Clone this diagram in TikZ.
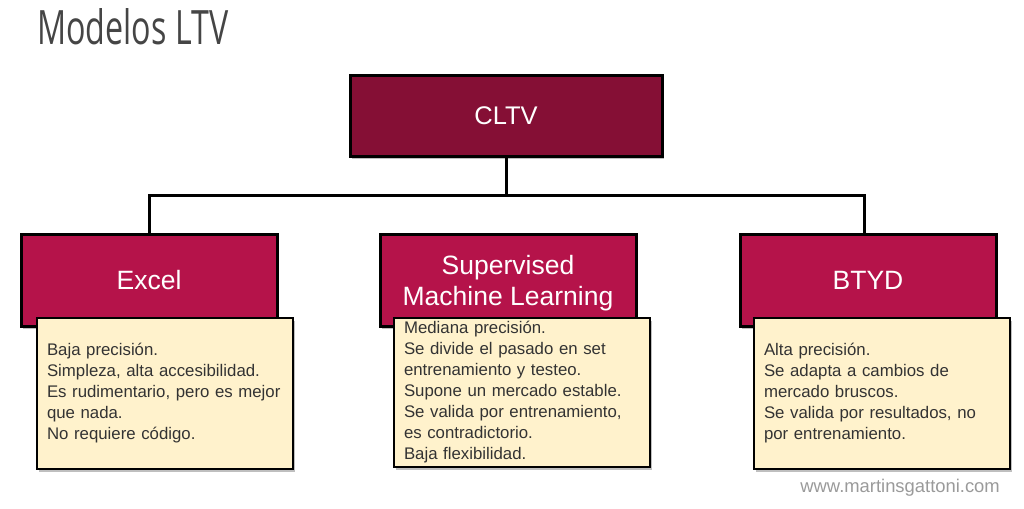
\documentclass[tikz,border=0pt]{standalone}
\usepackage{fontspec}
\setmainfont{Liberation Sans}
\setsansfont{Liberation Sans}
\newfontfamily\titlefont{Open Sans}
\usetikzlibrary{shadows}
\definecolor{cltvred}{HTML}{850F35}
\definecolor{childred}{HTML}{B5134A}
\definecolor{noteyellow}{HTML}{FFF2CC}
\definecolor{titlegray}{HTML}{454545}
\definecolor{markgray}{HTML}{9A9A9A}
\tikzset{
  boxshadow/.style={drop shadow={shadow xshift=1.5pt, shadow yshift=-2.5pt, opacity=0.25, fill=black}},
  topbox/.style={draw=black, line width=3pt, fill=cltvred, text=white, minimum width=312pt, minimum height=80pt, font=\fontsize{25.5}{30}\selectfont, boxshadow},
  childbox/.style={draw=black, line width=3pt, fill=childred, text=white, minimum width=256pt, minimum height=92pt, align=center, font=\fontsize{26.5}{32}\selectfont, boxshadow},
  notebox/.style={draw=black, line width=2.5pt, fill=noteyellow, text=black!80, minimum width=256pt, text width=236pt, inner xsep=10pt, align=left, font=\fontsize{16.8}{21}\selectfont, boxshadow},
  conn/.style={draw=black, line width=3pt}
}
\begin{document}
\begin{tikzpicture}[x=1pt,y=-1pt]
\useasboundingbox (0,0) rectangle (1024,508);
\node[anchor=north west, inner sep=0pt, text=titlegray] (title) at (37,8) {\resizebox{191pt}{36pt}{\titlefont Modelos LTV}};
\node[topbox] (cltv) at (506,116) {CLTV};
\coordinate (bus) at (506,195);
\coordinate (btydin) at (864,234);
\draw[conn] (cltv.south) -- (cltv.south |- bus);
\node[childbox] (excel) at (149,280) {Excel};
\node[childbox] (sml) at (508,280) {\raisebox{-3pt}[\height][\depth]{\shortstack{Supervised\\[4pt]Machine Learning}}};
\node[childbox] (btyd) at (868,280) {BTYD};
\draw[conn, line join=miter] (excel.north) |- (btydin |- bus) -- (btydin);
\node[notebox, minimum height=151pt] (exceln) at (165,393.5) {Baja precisión.\\Simpleza, alta accesibilidad.\\Es rudimentario, pero es mejor\\que nada.\\No requiere código.};
\node[notebox, minimum height=149pt] (smln) at (522,392.5) {Mediana precisión.\\Se divide el pasado en set\\entrenamiento y testeo.\\Supone un mercado estable.\\Se valida por entrenamiento,\\es contradictorio.\\Baja flexibilidad.};
\node[notebox, minimum height=151pt] (btydn) at (882,393.5) {Alta precisión.\\Se adapta a cambios de\\mercado bruscos.\\Se valida por resultados, no\\por entrenamiento.};
\node[anchor=east, inner sep=0pt, text=markgray, font=\fontsize{18.4}{20}\selectfont] (mark) at (1000,488) {www.martinsgattoni.com};
\end{tikzpicture}
\end{document}
